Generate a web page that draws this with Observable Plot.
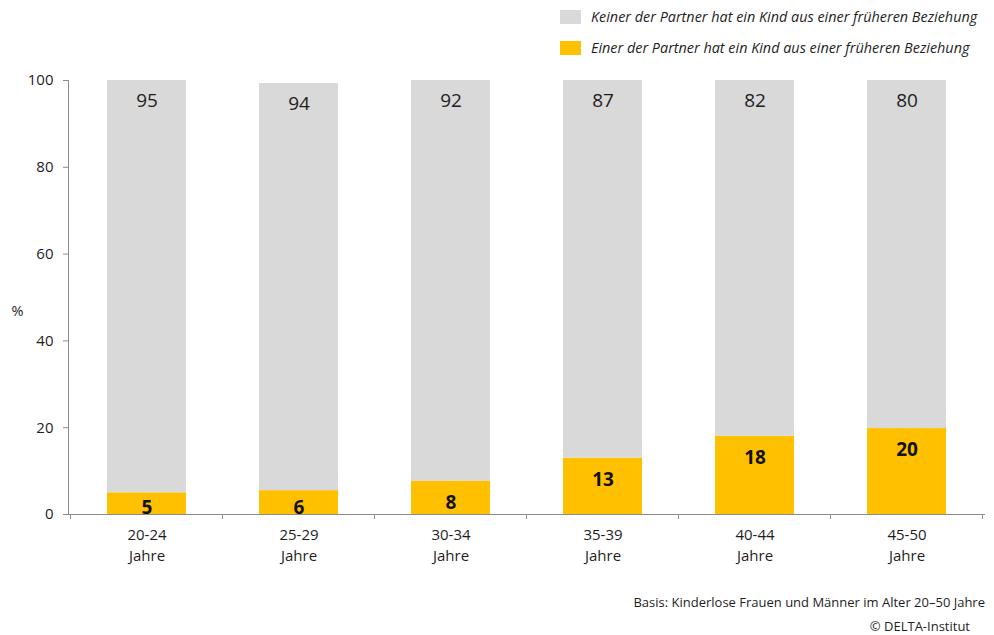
<!DOCTYPE html>
<html>
<head>
<meta charset="utf-8">
<script src="https://cdn.jsdelivr.net/npm/d3@7"></script>
<script src="https://cdn.jsdelivr.net/npm/@observablehq/plot@0.6"></script>
<style>
  html, body { margin: 0; padding: 0; background: #fff; }
  body { width: 994px; height: 635px; position: relative; overflow: hidden; font-family: "Open Sans", Lato, sans-serif; color: #1e1e1e; }
  #chart { position: absolute; left: 0; top: 0; }
  .legend { position: absolute; left: 560px; font-style: italic; font-size: 14.4px; color: #1e1e1e; display: flex; align-items: center; white-space: nowrap; }
  .legend .sw { width: 21px; height: 14px; margin-right: 10px; }
  .cap { position: absolute; font-size: 13px; color: #1e1e1e; white-space: nowrap; }
</style>
</head>
<body>
<div id="chart"></div>
<div id="legend"></div>
<div class="cap" id="basis" style="right: 9px; top: 593px;"></div>
<div class="cap" id="copy" style="right: 24px; top: 617px;"></div>
<script>
// ---- data ----
const categories = ["20-24", "25-29", "30-34", "35-39", "40-44", "45-50"];
const categoryLine2 = "Jahre";
const keiner = [95, 93.8, 92.3, 87, 82, 80.2];
const einer = [5, 5.5, 7.7, 13, 18, 19.8];
const seriesNames = [
  "Keiner der Partner hat ein Kind aus einer früheren Beziehung",
  "Einer der Partner hat ein Kind aus einer früheren Beziehung"
];
const seriesColors = ["#d9d9d9", "#ffc000"];
const yTicks = [0, 20, 40, 60, 80, 100];
const yLabel = "%";
const basisText = "Basis: Kinderlose Frauen und Männer im Alter 20–50 Jahre";
const copyText = "©  DELTA-Institut";

// ---- build long table ----
const rows = [];
categories.forEach((c, i) => {
  rows.push({cat: c, series: seriesNames[1], value: einer[i], order: 0});
  rows.push({cat: c, series: seriesNames[0], value: keiner[i], order: 1});
});
const yellowRows = rows.filter(d => d.order === 0);
const total = (c) => rows.filter(d => d.cat === c).reduce((s, d) => s + d.value, 0);

const textColor = "#1e1e1e";
const axisColor = "#8c8c8c";

// boundary ticks between categories (custom render using the band scale)
function boundaryTicks(index, scales, values, dims) {
  const x = scales.x;
  const bw = x.bandwidth ? x.bandwidth() : 0;
  const step = x(categories[1]) - x(categories[0]);
  const pad = (step - bw) / 2;
  const y0 = scales.y(0);
  const g = d3.create("svg:g");
  const xs = categories.map(c => x(c) - pad);
  xs.push(x(categories[categories.length - 1]) + bw + pad);
  xs.forEach(px => {
    g.append("line").attr("x1", px).attr("x2", px).attr("y1", y0).attr("y2", y0 + 5)
      .attr("stroke", axisColor).attr("stroke-width", 1);
  });
  return g.node();
}

const plot = Plot.plot({
  width: 994,
  height: 635,
  marginLeft: 68,
  marginRight: 9,
  marginTop: 80,
  marginBottom: 121,
  style: {fontFamily: "'Open Sans', Lato, sans-serif", color: textColor, background: "white"},
  x: {domain: categories, paddingInner: 0.48, paddingOuter: 0.24, label: null},
  y: {domain: [0, 100], label: null},
  color: {domain: seriesNames, range: seriesColors},
  marks: [
    Plot.barY(rows, Plot.stackY({x: "cat", y: "value", fill: "series", order: "order"})),
    // axes
    Plot.axisY({ticks: yTicks, tickSize: 5, tickPadding: 10, fontSize: 15, stroke: axisColor, label: null, color: textColor}),
    Plot.axisX({tickSize: 0, tickPadding: 11, fontSize: 15, lineHeight: 1.4, label: null,
      tickFormat: d => d + "\n" + categoryLine2, fill: textColor}),
    Plot.frame({anchor: "left", stroke: axisColor}),
    Plot.ruleY([0], {stroke: axisColor}),
    boundaryTicks,
    // y axis label
    Plot.text([yLabel], {frameAnchor: "left", dx: -57, dy: 14, fontSize: 14.5, fill: textColor}),
    // gray labels at the top of each stack
    Plot.text(categories, {x: d => d, y: d => total(d), text: (d, i) => String(Math.round(keiner[i])),
      lineAnchor: "top", dy: 13, fontSize: 19, fill: textColor}),
    // yellow labels: inside end for tall bars
    Plot.text(yellowRows.filter(d => d.value >= 7), {x: "cat", y: "value", text: d => String(Math.round(d.value)),
      lineAnchor: "top", dy: 14, fontSize: 19, fontWeight: "bold", fill: "#111"}),
    // yellow labels: small bars, sitting on the baseline
    Plot.text(yellowRows.filter(d => d.value < 7), {x: "cat", y: 0, text: d => String(Math.round(d.value)),
      lineAnchor: "bottom", dy: -1, fontSize: 19, fontWeight: "bold", fill: "#111"})
  ]
});
document.getElementById("chart").appendChild(plot);

// legend (top right, gray series on top)
const leg = document.getElementById("legend");
[[0, 7], [1, 38]].forEach(([i, top]) => {
  const item = document.createElement("div");
  item.className = "legend";
  item.style.top = top + "px";
  const sw = document.createElement("div");
  sw.className = "sw";
  sw.style.background = seriesColors[i];
  const t = document.createElement("span");
  t.textContent = seriesNames[i];
  item.appendChild(sw);
  item.appendChild(t);
  leg.appendChild(item);
});
document.getElementById("basis").textContent = basisText;
document.getElementById("copy").textContent = copyText;
</script>
</body>
</html>
